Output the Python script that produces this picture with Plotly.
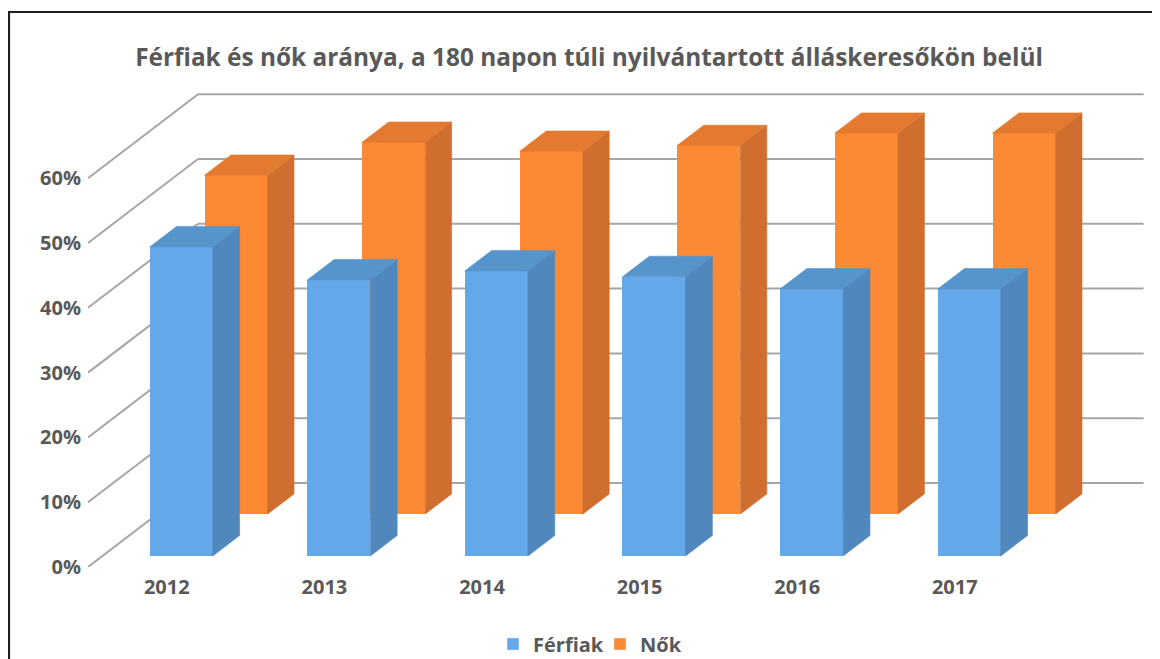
import plotly.graph_objects as go

# ---- data ----
years = ["2012", "2013", "2014", "2015", "2016", "2017"]
ferfiak = [47.7, 42.6, 44.0, 43.1, 41.2, 41.2]
nok = [52.3, 57.4, 56.0, 56.9, 58.8, 58.8]
y_ticks = [0, 10, 20, 30, 40, 50, 60]
y_tick_labels = ["0%", "10%", "20%", "30%", "40%", "50%", "60%"]

# ---- geometry (oblique projection of the 3D column chart) ----
OFF = 8                     # page body margin
W, H = 1160 - OFF, 659 - OFF
L_PX, R_PX, B_PX, T_PX = 88 - OFF, 1144 - OFF, 567 - OFF, 90 - OFF
PX_PER_CAT = 157.6
PX_PER_PCT = 6.48
DX = 110 / PX_PER_CAT      # full depth shift in x (category units)
DY = 84 / PX_PER_PCT       # full depth shift in y (percent units)
BAR_W = 0.4
XR = (R_PX - L_PX) / PX_PER_CAT
YR = (B_PX - T_PX) / PX_PER_PCT

TXT = "#595959"
FONT = "Open Sans"
GRID = "#a6a6a6"

series = [
    dict(name="Nők", vals=nok, z0=0.63, z1=0.87,
         front="#fc8a35", side="#cf6e2e", top="#e47930"),
    dict(name="Férfiak", vals=ferfiak, z0=0.131, z1=0.375,
         front="#63a9e9", side="#5088be", top="#5694cc"),
]

fig = go.Figure()

for s in series:
    z0, z1 = s["z0"], s["z1"]
    n = len(s["vals"])
    fig.add_trace(go.Bar(
        x=[i + 0.5 + z0 * DX for i in range(n)], y=s["vals"],
        base=[z0 * DY] * n, width=BAR_W, name=s["name"],
        marker=dict(color=s["front"], line=dict(width=0)),
        showlegend=False, hoverinfo="skip"))

# side + top faces (scatter layer draws above bars)
for s in series:
    z0, z1 = s["z0"], s["z1"]
    sx, sy, tx, ty = [], [], [], []
    for i, v in enumerate(s["vals"]):
        xl = i + 0.5 - BAR_W / 2
        xr = i + 0.5 + BAR_W / 2
        sx += [xr + z0 * DX, xr + z1 * DX, xr + z1 * DX, xr + z0 * DX, xr + z0 * DX, None]
        sy += [z0 * DY, z1 * DY, v + z1 * DY, v + z0 * DY, z0 * DY, None]
        tx += [xl + z0 * DX, xr + z0 * DX, xr + z1 * DX, xl + z1 * DX, xl + z0 * DX, None]
        ty += [v + z0 * DY, v + z0 * DY, v + z1 * DY, v + z1 * DY, v + z0 * DY, None]
    fig.add_trace(go.Scatter(x=sx, y=sy, mode="lines", fill="toself",
                             fillcolor=s["side"], line=dict(width=0.6, color=s["side"]),
                             showlegend=False, hoverinfo="skip"))
    fig.add_trace(go.Scatter(x=tx, y=ty, mode="lines", fill="toself",
                             fillcolor=s["top"], line=dict(width=0.6, color=s["top"]),
                             showlegend=False, hoverinfo="skip"))

# legend entries
for s in series[::-1]:
    fig.add_trace(go.Bar(x=[None], y=[None], name=s["name"],
                         marker=dict(color=s["front"]), hoverinfo="skip"))

# wall gridlines
shapes = []
for t in y_ticks:
    shapes.append(dict(type="line", xref="x", yref="y", x0=0, y0=t, x1=DX, y1=t + DY,
                       line=dict(color=GRID, width=2), layer="below"))
    shapes.append(dict(type="line", xref="x", yref="y", x0=DX, y0=t + DY,
                       x1=len(years) + DX, y1=t + DY,
                       line=dict(color=GRID, width=2), layer="below"))
# outer frame
shapes.append(dict(type="rect", xref="paper", yref="paper",
                   x0=(9 - OFF - L_PX) / (R_PX - L_PX), x1=1.2,
                   y0=-0.5, y1=(B_PX - (12 - OFF)) / (B_PX - T_PX),
                   line=dict(color="#1e1e1e", width=2.2), layer="above"))

fig.update_layout(
    width=W, height=H,
    margin=dict(l=L_PX, r=W - R_PX, t=T_PX, b=H - B_PX, autoexpand=False),
    paper_bgcolor="white", plot_bgcolor="rgba(0,0,0,0)",
    barmode="overlay", bargap=0,
    title=dict(text="Férfiak és nők aránya, a 180 napon túli nyilvántartott álláskeresőkön belül",
               x=(589 - OFF) / W, xref="container", xanchor="center",
               y=1 - (57 - OFF) / H, yref="container", yanchor="middle",
               font=dict(family=FONT, size=24.4, color=TXT, weight="bold")),
    xaxis=dict(range=[0, XR], showgrid=False, zeroline=False, showline=False,
               tickvals=[i + 0.5 for i in range(len(years))], ticktext=years,
               ticks="", ticklabelstandoff=6, fixedrange=True,
               tickfont=dict(family=FONT, size=20, color=TXT, weight="bold")),
    yaxis=dict(range=[0, YR], showgrid=False, zeroline=False, showline=False,
               tickvals=y_ticks, ticktext=y_tick_labels,
               ticks="", ticklabelstandoff=6, fixedrange=True,
               tickfont=dict(family=FONT, size=20, color=TXT, weight="bold")),
    legend=dict(orientation="h", xref="container", yref="container",
                x=(600 - OFF) / W, xanchor="center", y=1 - (644 - OFF) / H, yanchor="middle",
                font=dict(family=FONT, size=20, color=TXT, weight="bold"),
                entrywidth=62, traceorder="normal"),
    shapes=shapes,
    showlegend=True,
)

fig.write_html("out.html")
